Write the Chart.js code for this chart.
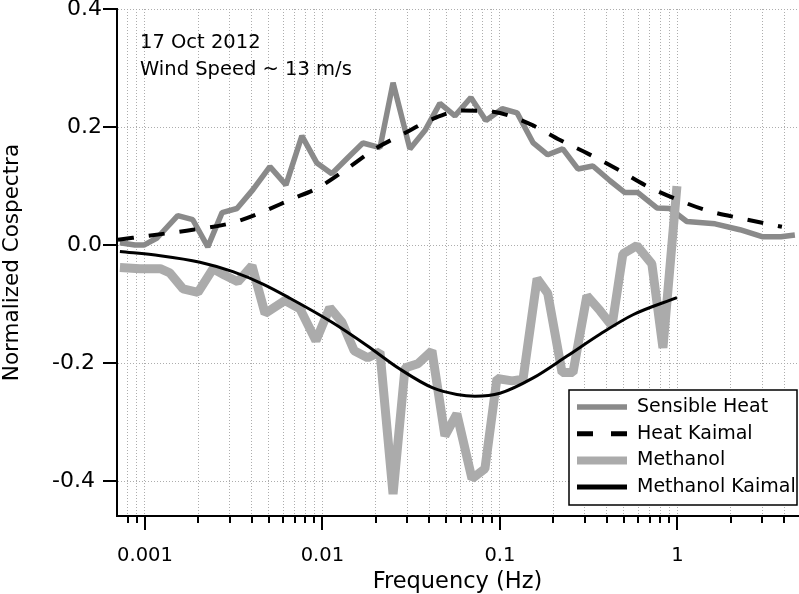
<!DOCTYPE html>
<html>
<head>
<meta charset="utf-8">
<script src="https://cdn.jsdelivr.net/npm/chart.js@4/dist/chart.umd.min.js"></script>
<style>
  html, body { margin: 0; padding: 0; background: #fff; }
</style>
</head>
<body>
<canvas id="cospectraChart" width="799" height="594"></canvas>
<script>
// Sensible heat cospectrum (frequency in Hz, normalized value)
const heatFreq = [0.000723, 0.000878, 0.000987, 0.00117, 0.00153, 0.00186, 0.00226, 0.00272, 0.00330, 0.00406,
  0.00506, 0.00623, 0.00766, 0.00931, 0.0113, 0.0139, 0.0169, 0.0211, 0.0250, 0.0311,
  0.0378, 0.0459, 0.0558, 0.0686, 0.0834, 0.103, 0.125, 0.154, 0.186, 0.226,
  0.275, 0.334, 0.417, 0.506, 0.599, 0.766, 0.907, 1.13, 1.63, 2.25,
  3.03, 3.83, 4.59];
const heatValues = [0.004, 0.0, 0.0, 0.012, 0.050, 0.043, -0.003, 0.055, 0.062, 0.094,
  0.133, 0.102, 0.185, 0.139, 0.121, 0.148, 0.173, 0.165, 0.275, 0.163,
  0.194, 0.240, 0.219, 0.250, 0.211, 0.231, 0.224, 0.173, 0.153, 0.163,
  0.129, 0.134, 0.109, 0.089, 0.089, 0.063, 0.062, 0.040, 0.036, 0.026,
  0.014, 0.014, 0.017];

// Kaimal curve for heat
const heatKaimalFreq = [0.000705, 0.00126, 0.00186, 0.00313, 0.00433, 0.00673, 0.00943, 0.0137, 0.0198, 0.0284,
  0.0419, 0.0619, 0.0914, 0.148, 0.218, 0.313, 0.462, 0.673, 1.0, 1.49, 2.31, 3.88];
const heatKaimalValues = [0.009, 0.019, 0.026, 0.038, 0.053, 0.078, 0.097, 0.129, 0.163, 0.188,
  0.214, 0.228, 0.226, 0.205, 0.178, 0.155, 0.128, 0.100, 0.077, 0.058, 0.045, 0.031];

// Methanol cospectrum
const methFreq = [0.000723, 0.000937, 0.00122, 0.00138, 0.00164, 0.00199, 0.00242, 0.00282, 0.00334, 0.00401,
  0.00475, 0.00615, 0.00747, 0.00919, 0.0110, 0.0129, 0.0151, 0.0180, 0.0211, 0.0250,
  0.0292, 0.0345, 0.0414, 0.0490, 0.0572, 0.0696, 0.0823, 0.0962, 0.117, 0.135,
  0.162, 0.186, 0.224, 0.258, 0.309, 0.366, 0.428, 0.493, 0.591, 0.718,
  0.829, 0.994];
const methValues = [-0.038, -0.040, -0.040, -0.047, -0.074, -0.080, -0.040, -0.051, -0.062, -0.035,
  -0.116, -0.094, -0.108, -0.162, -0.106, -0.131, -0.179, -0.191, -0.181, -0.422,
  -0.208, -0.201, -0.179, -0.323, -0.286, -0.396, -0.379, -0.226, -0.230, -0.227,
  -0.057, -0.082, -0.216, -0.216, -0.086, -0.111, -0.137, -0.015, -0.001, -0.032,
  -0.174, 0.100];

// Kaimal curve for methanol
const methKaimalFreq = [0.000723, 0.00122, 0.00204, 0.00313, 0.00462, 0.00656, 0.0115, 0.0178, 0.0273, 0.0419,
  0.0572, 0.0723, 0.100, 0.154, 0.239, 0.366, 0.562, 0.994];
const methKaimalValues = [-0.011, -0.018, -0.029, -0.045, -0.066, -0.090, -0.132, -0.170, -0.210, -0.242,
  -0.253, -0.256, -0.251, -0.225, -0.188, -0.151, -0.118, -0.089];

const xTickLabels = [0.001, 0.01, 0.1, 1];
const yTickValues = [-0.4, -0.2, 0.0, 0.2, 0.4];

const FONT = 'DejaVu Sans';

function toPoints(xs, ys) {
  return xs.map((f, i) => ({ x: f, y: ys[i] }));
}

function isDecade(v) {
  return xTickLabels.some(d => Math.abs(v / d - 1) < 1e-6);
}

// ticks, legend box and the note in the corner
const decorPlugin = {
  id: 'decor',
  afterDraw(chart) {
    const { ctx, chartArea } = chart;
    const xs = chart.scales.x, ys = chart.scales.y;
    ctx.save();
    ctx.strokeStyle = '#000';
    ctx.lineWidth = 2;
    xs.ticks.forEach(t => {
      const px = Math.round(xs.getPixelForValue(t.value));
      if (px < chartArea.left + 1) return;
      const len = isDecade(t.value) ? 14 : 7;
      ctx.beginPath();
      ctx.moveTo(px, chartArea.bottom);
      ctx.lineTo(px, chartArea.bottom + len);
      ctx.stroke();
    });
    ys.ticks.forEach(t => {
      const py = Math.round(ys.getPixelForValue(t.value));
      ctx.beginPath();
      ctx.moveTo(chartArea.left, py);
      ctx.lineTo(chartArea.left - 14, py);
      ctx.stroke();
    });

    // note
    ctx.fillStyle = '#000';
    ctx.font = '19.5px "' + FONT + '"';
    ctx.textAlign = 'left';
    ctx.textBaseline = 'middle';
    ctx.fillText('17 Oct 2012', 140, 43);
    ctx.fillText('Wind Speed ~ 13 m/s', 140, 70);

    // legend
    ctx.font = '19px "' + FONT + '"';
    const bx = 569, by = 390, bw = 228, bh = 115;
    ctx.fillStyle = '#fff';
    ctx.fillRect(bx, by, bw, bh);
    ctx.lineWidth = 1.5;
    ctx.strokeStyle = '#000';
    ctx.strokeRect(bx, by, bw, bh);
    chart.data.datasets.forEach((ds, i) => {
      const cy = 407 + i * 26.7;
      ctx.save();
      ctx.strokeStyle = ds.borderColor;
      ctx.lineWidth = ds.legendWidth || ds.borderWidth;
      ctx.setLineDash(ds.borderDash ? [16, 18] : []);
      ctx.beginPath();
      ctx.moveTo(577, cy);
      ctx.lineTo(627, cy);
      ctx.stroke();
      ctx.restore();
      ctx.fillStyle = '#000';
      ctx.fillText(ds.label, 637, cy);
    });
    ctx.restore();
  }
};

new Chart(document.getElementById('cospectraChart'), {
  type: 'line',
  data: {
    datasets: [
      {
        label: 'Sensible Heat',
        data: toPoints(heatFreq, heatValues),
        borderColor: '#8a8a8a',
        borderWidth: 5.5,
        borderJoinStyle: 'bevel',
        pointRadius: 0,
        order: 4
      },
      {
        label: 'Heat Kaimal',
        data: toPoints(heatKaimalFreq, heatKaimalValues),
        borderColor: '#000',
        borderWidth: 4,
        borderDash: [16, 15],
        cubicInterpolationMode: 'monotone',
        pointRadius: 0,
        legendWidth: 5,
        order: 2
      },
      {
        label: 'Methanol',
        data: toPoints(methFreq, methValues),
        borderColor: '#ababab',
        borderWidth: 9,
        borderJoinStyle: 'bevel',
        pointRadius: 0,
        legendWidth: 8,
        order: 3
      },
      {
        label: 'Methanol Kaimal',
        data: toPoints(methKaimalFreq, methKaimalValues),
        borderColor: '#000',
        borderWidth: 3,
        cubicInterpolationMode: 'monotone',
        pointRadius: 0,
        legendWidth: 5,
        order: 1
      }
    ]
  },
  options: {
    responsive: false,
    animation: false,
    events: [],
    layout: { padding: { top: 9, right: 1, left: 0, bottom: 0 } },
    plugins: {
      legend: { display: false },
      tooltip: { enabled: false }
    },
    scales: {
      x: {
        type: 'logarithmic',
        min: 0.000696,
        max: 4.78,
        afterBuildTicks(scale) {
          const ticks = [];
          for (let e = -4; e <= 1; e++) {
            for (let s = 1; s <= 9; s++) {
              const v = parseFloat((s * Math.pow(10, e)).toPrecision(6));
              if (v >= scale.min && v <= scale.max) ticks.push({ value: v });
            }
          }
          scale.ticks = ticks;
        },
        afterFit(scale) {
          scale.height = 78;
          scale.paddingLeft = 0;
          scale.paddingRight = 0;
        },
        ticks: {
          autoSkip: false,
          maxRotation: 0,
          padding: 28,
          color: '#000',
          font: { family: FONT, size: 19.5 },
          callback: v => (isDecade(v) ? String(xTickLabels.find(d => Math.abs(v / d - 1) < 1e-6)) : '')
        },
        grid: { color: '#adadad', lineWidth: 1, drawTicks: false },
        border: { display: true, color: '#000', width: 2, dash: [1, 2] },
        title: {
          display: true,
          text: 'Frequency (Hz)',
          color: '#000',
          font: { family: FONT, size: 22.5 },
          padding: { top: 0, bottom: -2 }
        }
      },
      y: {
        min: -0.459,
        max: 0.4,
        afterBuildTicks(scale) {
          scale.ticks = yTickValues.map(v => ({ value: v }));
        },
        afterFit(scale) {
          scale.width = 117;
          scale.paddingTop = 0;
          scale.paddingBottom = 0;
        },
        ticks: {
          padding: 15,
          color: '#000',
          font: { family: FONT, size: 22 },
          // negative labels sit a little further left in the original
          callback: v => (v < 0 ? v.toFixed(1) + ' ' : v.toFixed(1))
        },
        grid: { color: '#adadad', lineWidth: 1, drawTicks: false },
        border: { display: true, color: '#000', width: 2, dash: [1, 2] },
        title: {
          display: true,
          text: 'Normalized Cospectra',
          color: '#000',
          font: { family: FONT, size: 21.5 },
          padding: { top: 0, bottom: 0 }
        }
      }
    }
  },
  plugins: [decorPlugin]
});
</script>
</body>
</html>
